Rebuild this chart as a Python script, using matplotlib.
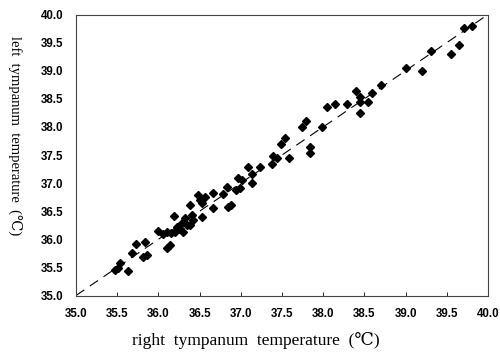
import numpy as np
import matplotlib.pyplot as plt

# right vs left tympanum temperature readings (deg C)
right_temp = [
    35.47, 35.51, 35.53, 35.63, 35.68, 35.73, 35.84, 35.81, 35.86, 36.00,
    36.06, 36.10, 36.15, 36.20, 36.10, 36.14, 36.19, 36.23, 36.26, 36.29,
    36.30, 36.32, 36.35, 36.38, 36.41, 36.42, 36.38, 36.48, 36.51, 36.53,
    36.53, 36.57, 36.66, 36.66, 36.78, 36.83, 36.85, 36.88, 36.94, 36.99,
    36.97, 37.02, 37.14, 37.14, 37.09, 37.23, 37.38, 37.39, 37.44, 37.59,
    37.49, 37.54, 37.74, 37.79, 37.84, 37.84, 37.99, 38.05, 38.14, 38.29,
    38.40, 38.45, 38.45, 38.54, 38.45, 38.59, 38.70, 39.01, 39.20, 39.31,
    39.55, 39.65, 39.71, 39.81,
]
left_temp = [
    35.45, 35.49, 35.58, 35.44, 35.76, 35.92, 35.95, 35.69, 35.72, 36.15,
    36.09, 36.13, 36.11, 36.13, 35.85, 35.90, 36.42, 36.22, 36.18, 36.29,
    36.13, 36.38, 36.25, 36.25, 36.43, 36.34, 36.61, 36.79, 36.70, 36.65,
    36.40, 36.75, 36.82, 36.56, 36.81, 36.93, 36.58, 36.61, 36.88, 36.91,
    37.09, 37.06, 37.16, 37.00, 37.29, 37.29, 37.34, 37.48, 37.45, 37.45,
    37.70, 37.80, 38.00, 38.11, 37.64, 37.54, 38.00, 38.35, 38.41, 38.41,
    38.64, 38.53, 38.44, 38.44, 38.25, 38.60, 38.75, 39.05, 39.00, 39.35,
    39.30, 39.46, 39.76, 39.80,
]
ticks = [35.0, 35.5, 36.0, 36.5, 37.0, 37.5, 38.0, 38.5, 39.0, 39.5, 40.0]
tick_labels = [f"{t:.1f}" for t in ticks]

serif = ["Liberation Serif", "DejaVu Serif"]

fig = plt.figure(figsize=(5.0, 3.52), dpi=100)
ax = fig.add_axes([0.152, 0.1605, 0.824, 0.7983])

# identity line
ax.plot([35, 40], [35, 40], color="black", linewidth=0.8, dashes=(9, 6))
ax.plot(right_temp, left_temp, "D", color="black", markersize=4.4, linestyle="none")

ax.set_xlim(35, 40)
ax.set_ylim(35, 40)
ax.set_xticks(ticks)
ax.set_yticks(ticks)
ax.set_xticklabels(tick_labels, family="Liberation Sans", fontsize=8.3, weight="bold")
ax.set_yticklabels(tick_labels, family="Liberation Sans", fontsize=8.3, weight="bold")
ax.tick_params(axis="x", direction="in", length=3, width=0.6, pad=9)
ax.tick_params(axis="y", direction="in", length=0, pad=9)
for s in ax.spines.values():
    s.set_linewidth(0.8)
    s.set_color("#444444")

ax.set_xlabel("right  tympanum  temperature  (℃)", family=serif, fontsize=12.5)
ax.xaxis.set_label_coords(0.437, -0.13)
ax.set_ylabel("left  tympanum  temperature  (℃)", family=serif, fontsize=10.5,
              rotation=270, va="center")
ax.yaxis.set_label_coords(-0.148, 0.57)

fig.savefig("out.png", dpi=100)
